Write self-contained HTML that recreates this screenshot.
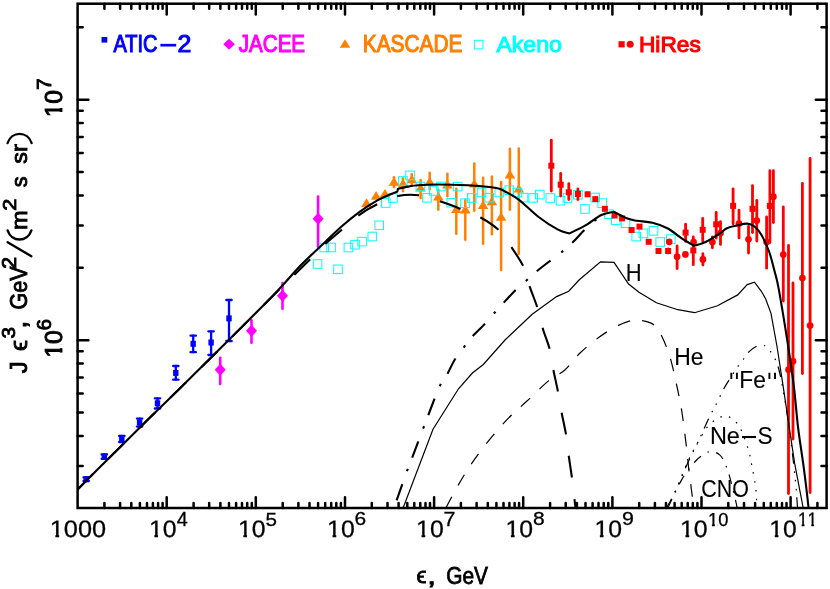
<!DOCTYPE html>
<html><head><meta charset="utf-8"><title>Cosmic ray spectrum</title>
<style>html,body{margin:0;padding:0;background:#fff}svg{display:block}</style></head>
<body>
<svg width="830" height="589" viewBox="0 0 830 589">
<rect x="0" y="0" width="830" height="589" fill="#fff"/>
<defs><clipPath id="cp"><rect x="77.6" y="3.7" width="749.0" height="504.3"/></clipPath></defs>
<g clip-path="url(#cp)">
<line x1="86.2" y1="477.5" x2="86.2" y2="481.0" stroke="#0000ff" stroke-width="2.3" stroke-linecap="round"/><line x1="83.5" y1="477.5" x2="88.9" y2="477.5" stroke="#0000ff" stroke-width="2.3" stroke-linecap="round"/><line x1="83.5" y1="481.0" x2="88.9" y2="481.0" stroke="#0000ff" stroke-width="2.3" stroke-linecap="round"/>
<rect x="83.5" y="476.2" width="5.4" height="6" fill="#0000ff"/>
<line x1="104.3" y1="454.5" x2="104.3" y2="458.8" stroke="#0000ff" stroke-width="2.3" stroke-linecap="round"/><line x1="101.6" y1="454.5" x2="107.0" y2="454.5" stroke="#0000ff" stroke-width="2.3" stroke-linecap="round"/><line x1="101.6" y1="458.8" x2="107.0" y2="458.8" stroke="#0000ff" stroke-width="2.3" stroke-linecap="round"/>
<rect x="101.6" y="453.6" width="5.4" height="6" fill="#0000ff"/>
<line x1="121.8" y1="436.0" x2="121.8" y2="442.0" stroke="#0000ff" stroke-width="2.3" stroke-linecap="round"/><line x1="119.1" y1="436.0" x2="124.5" y2="436.0" stroke="#0000ff" stroke-width="2.3" stroke-linecap="round"/><line x1="119.1" y1="442.0" x2="124.5" y2="442.0" stroke="#0000ff" stroke-width="2.3" stroke-linecap="round"/>
<rect x="119.1" y="436.0" width="5.4" height="6" fill="#0000ff"/>
<line x1="139.6" y1="418.6" x2="139.6" y2="426.6" stroke="#0000ff" stroke-width="2.3" stroke-linecap="round"/><line x1="136.9" y1="418.6" x2="142.3" y2="418.6" stroke="#0000ff" stroke-width="2.3" stroke-linecap="round"/><line x1="136.9" y1="426.6" x2="142.3" y2="426.6" stroke="#0000ff" stroke-width="2.3" stroke-linecap="round"/>
<rect x="136.9" y="419.6" width="5.4" height="6" fill="#0000ff"/>
<line x1="157.5" y1="398.3" x2="157.5" y2="408.5" stroke="#0000ff" stroke-width="2.3" stroke-linecap="round"/><line x1="154.8" y1="398.3" x2="160.2" y2="398.3" stroke="#0000ff" stroke-width="2.3" stroke-linecap="round"/><line x1="154.8" y1="408.5" x2="160.2" y2="408.5" stroke="#0000ff" stroke-width="2.3" stroke-linecap="round"/>
<rect x="154.8" y="400.3" width="5.4" height="6" fill="#0000ff"/>
<line x1="175.8" y1="366.0" x2="175.8" y2="379.7" stroke="#0000ff" stroke-width="2.3" stroke-linecap="round"/><line x1="173.1" y1="366.0" x2="178.5" y2="366.0" stroke="#0000ff" stroke-width="2.3" stroke-linecap="round"/><line x1="173.1" y1="379.7" x2="178.5" y2="379.7" stroke="#0000ff" stroke-width="2.3" stroke-linecap="round"/>
<rect x="173.1" y="369.9" width="5.4" height="6" fill="#0000ff"/>
<line x1="193.2" y1="335.7" x2="193.2" y2="352.2" stroke="#0000ff" stroke-width="2.3" stroke-linecap="round"/><line x1="190.5" y1="335.7" x2="195.9" y2="335.7" stroke="#0000ff" stroke-width="2.3" stroke-linecap="round"/><line x1="190.5" y1="352.2" x2="195.9" y2="352.2" stroke="#0000ff" stroke-width="2.3" stroke-linecap="round"/>
<rect x="190.5" y="340.8" width="5.4" height="6" fill="#0000ff"/>
<line x1="211.1" y1="331.3" x2="211.1" y2="355.0" stroke="#0000ff" stroke-width="2.3" stroke-linecap="round"/><line x1="208.4" y1="331.3" x2="213.8" y2="331.3" stroke="#0000ff" stroke-width="2.3" stroke-linecap="round"/><line x1="208.4" y1="355.0" x2="213.8" y2="355.0" stroke="#0000ff" stroke-width="2.3" stroke-linecap="round"/>
<rect x="208.4" y="339.5" width="5.4" height="6" fill="#0000ff"/>
<line x1="229.0" y1="300.0" x2="229.0" y2="341.0" stroke="#0000ff" stroke-width="2.3" stroke-linecap="round"/><line x1="226.3" y1="300.0" x2="231.7" y2="300.0" stroke="#0000ff" stroke-width="2.3" stroke-linecap="round"/><line x1="226.3" y1="341.0" x2="231.7" y2="341.0" stroke="#0000ff" stroke-width="2.3" stroke-linecap="round"/>
<rect x="226.3" y="315.4" width="5.4" height="6" fill="#0000ff"/>
<line x1="220.2" y1="357.7" x2="220.2" y2="384.0" stroke="#ff00ff" stroke-width="2.6" stroke-linecap="round"/>
<path d="M214.7 369.8 L220.2 363.8 L225.7 369.8 L220.2 375.8 Z" fill="#ff00ff"/>
<line x1="251.5" y1="320.3" x2="251.5" y2="342.7" stroke="#ff00ff" stroke-width="2.6" stroke-linecap="round"/>
<path d="M246.0 330.8 L251.5 324.8 L257.0 330.8 L251.5 336.8 Z" fill="#ff00ff"/>
<line x1="282.5" y1="283.1" x2="282.5" y2="308.7" stroke="#ff00ff" stroke-width="2.6" stroke-linecap="round"/>
<path d="M277.0 295.8 L282.5 289.8 L288.0 295.8 L282.5 301.8 Z" fill="#ff00ff"/>
<line x1="318.1" y1="196.6" x2="318.1" y2="246.7" stroke="#ff00ff" stroke-width="2.6" stroke-linecap="round"/>
<path d="M312.6 218.7 L318.1 212.7 L323.6 218.7 L318.1 224.7 Z" fill="#ff00ff"/>
<path d="M361.2 206.9 L371.8 206.9 L366.5 198.3 Z" fill="#ff8000"/>
<path d="M370.8 199.7 L381.4 199.7 L376.1 191.1 Z" fill="#ff8000"/>
<path d="M379.7 197.5 L390.3 197.5 L385.0 188.9 Z" fill="#ff8000"/>
<line x1="394.0" y1="177.2" x2="394.0" y2="187.3" stroke="#ff8000" stroke-width="2.5" stroke-linecap="round"/>
<path d="M388.7 185.7 L399.3 185.7 L394.0 177.1 Z" fill="#ff8000"/>
<line x1="403.0" y1="178.2" x2="403.0" y2="191.2" stroke="#ff8000" stroke-width="2.5" stroke-linecap="round"/>
<path d="M397.7 187.4 L408.3 187.4 L403.0 178.8 Z" fill="#ff8000"/>
<line x1="411.8" y1="174.2" x2="411.8" y2="185.3" stroke="#ff8000" stroke-width="2.5" stroke-linecap="round"/>
<path d="M406.5 183.2 L417.1 183.2 L411.8 174.6 Z" fill="#ff8000"/>
<line x1="420.6" y1="180.1" x2="420.6" y2="198.1" stroke="#ff8000" stroke-width="2.5" stroke-linecap="round"/>
<path d="M415.3 191.5 L425.9 191.5 L420.6 182.9 Z" fill="#ff8000"/>
<line x1="429.7" y1="172.7" x2="429.7" y2="189.2" stroke="#ff8000" stroke-width="2.5" stroke-linecap="round"/>
<path d="M424.4 185.5 L435.0 185.5 L429.7 176.9 Z" fill="#ff8000"/>
<line x1="438.3" y1="189.8" x2="438.3" y2="209.8" stroke="#ff8000" stroke-width="2.5" stroke-linecap="round"/>
<path d="M433.0 200.5 L443.6 200.5 L438.3 191.9 Z" fill="#ff8000"/>
<line x1="447.4" y1="173.8" x2="447.4" y2="196.2" stroke="#ff8000" stroke-width="2.5" stroke-linecap="round"/>
<path d="M442.1 188.4 L452.7 188.4 L447.4 179.8 Z" fill="#ff8000"/>
<line x1="456.3" y1="188.8" x2="456.3" y2="233.8" stroke="#ff8000" stroke-width="2.5" stroke-linecap="round"/>
<path d="M451.0 213.0 L461.6 213.0 L456.3 204.4 Z" fill="#ff8000"/>
<line x1="465.3" y1="199.7" x2="465.3" y2="239.8" stroke="#ff8000" stroke-width="2.5" stroke-linecap="round"/>
<path d="M460.0 213.6 L470.6 213.6 L465.3 205.0 Z" fill="#ff8000"/>
<line x1="474.3" y1="163.4" x2="474.3" y2="210.8" stroke="#ff8000" stroke-width="2.5" stroke-linecap="round"/>
<path d="M469.0 187.6 L479.6 187.6 L474.3 179.0 Z" fill="#ff8000"/>
<line x1="483.1" y1="177.8" x2="483.1" y2="243.8" stroke="#ff8000" stroke-width="2.5" stroke-linecap="round"/>
<path d="M477.8 209.1 L488.4 209.1 L483.1 200.5 Z" fill="#ff8000"/>
<line x1="491.9" y1="176.6" x2="491.9" y2="234.2" stroke="#ff8000" stroke-width="2.5" stroke-linecap="round"/>
<path d="M486.6 205.2 L497.2 205.2 L491.9 196.6 Z" fill="#ff8000"/>
<line x1="501.1" y1="182.1" x2="501.1" y2="270.1" stroke="#ff8000" stroke-width="2.5" stroke-linecap="round"/>
<path d="M495.8 220.8 L506.4 220.8 L501.1 212.2 Z" fill="#ff8000"/>
<line x1="509.9" y1="148.8" x2="509.9" y2="209.8" stroke="#ff8000" stroke-width="2.5" stroke-linecap="round"/>
<path d="M504.6 178.4 L515.2 178.4 L509.9 169.8 Z" fill="#ff8000"/>
<line x1="518.8" y1="148.4" x2="518.8" y2="253.8" stroke="#ff8000" stroke-width="2.5" stroke-linecap="round"/>
<path d="M513.5 192.5 L524.1 192.5 L518.8 183.9 Z" fill="#ff8000"/>
<rect x="313.3" y="259.7" width="8.6" height="8.6" fill="none" stroke="#00ffff" stroke-width="1"/>
<rect x="319.9" y="243.2" width="8.6" height="8.6" fill="none" stroke="#00ffff" stroke-width="1"/>
<rect x="326.8" y="243.2" width="8.6" height="8.6" fill="none" stroke="#00ffff" stroke-width="1"/>
<rect x="333.7" y="265.0" width="8.6" height="8.6" fill="none" stroke="#00ffff" stroke-width="1"/>
<rect x="344.1" y="243.2" width="8.6" height="8.6" fill="none" stroke="#00ffff" stroke-width="1"/>
<rect x="350.7" y="240.4" width="8.6" height="8.6" fill="none" stroke="#00ffff" stroke-width="1"/>
<rect x="357.8" y="237.3" width="8.6" height="8.6" fill="none" stroke="#00ffff" stroke-width="1"/>
<rect x="368.0" y="232.2" width="8.6" height="8.6" fill="none" stroke="#00ffff" stroke-width="1"/>
<rect x="374.9" y="221.0" width="8.6" height="8.6" fill="none" stroke="#00ffff" stroke-width="1"/>
<rect x="381.5" y="198.7" width="8.6" height="8.6" fill="none" stroke="#00ffff" stroke-width="1"/>
<rect x="388.6" y="193.7" width="8.6" height="8.6" fill="none" stroke="#00ffff" stroke-width="1"/>
<rect x="398.6" y="176.7" width="8.6" height="8.6" fill="none" stroke="#00ffff" stroke-width="1"/>
<rect x="405.7" y="171.1" width="8.6" height="8.6" fill="none" stroke="#00ffff" stroke-width="1"/>
<rect x="416.1" y="182.2" width="8.6" height="8.6" fill="none" stroke="#00ffff" stroke-width="1"/>
<rect x="422.7" y="193.5" width="8.6" height="8.6" fill="none" stroke="#00ffff" stroke-width="1"/>
<rect x="429.5" y="186.7" width="8.6" height="8.6" fill="none" stroke="#00ffff" stroke-width="1"/>
<rect x="436.7" y="182.2" width="8.6" height="8.6" fill="none" stroke="#00ffff" stroke-width="1"/>
<rect x="447.0" y="198.4" width="8.6" height="8.6" fill="none" stroke="#00ffff" stroke-width="1"/>
<rect x="453.4" y="182.3" width="8.6" height="8.6" fill="none" stroke="#00ffff" stroke-width="1"/>
<rect x="460.7" y="198.9" width="8.6" height="8.6" fill="none" stroke="#00ffff" stroke-width="1"/>
<rect x="467.5" y="193.7" width="8.6" height="8.6" fill="none" stroke="#00ffff" stroke-width="1"/>
<rect x="477.3" y="188.2" width="8.6" height="8.6" fill="none" stroke="#00ffff" stroke-width="1"/>
<rect x="484.9" y="193.4" width="8.6" height="8.6" fill="none" stroke="#00ffff" stroke-width="1"/>
<rect x="495.0" y="188.2" width="8.6" height="8.6" fill="none" stroke="#00ffff" stroke-width="1"/>
<rect x="505.0" y="185.9" width="8.6" height="8.6" fill="none" stroke="#00ffff" stroke-width="1"/>
<rect x="513.1" y="188.2" width="8.6" height="8.6" fill="none" stroke="#00ffff" stroke-width="1"/>
<rect x="519.2" y="193.3" width="8.6" height="8.6" fill="none" stroke="#00ffff" stroke-width="1"/>
<rect x="528.9" y="193.6" width="8.6" height="8.6" fill="none" stroke="#00ffff" stroke-width="1"/>
<rect x="535.5" y="190.3" width="8.6" height="8.6" fill="none" stroke="#00ffff" stroke-width="1"/>
<rect x="546.0" y="193.7" width="8.6" height="8.6" fill="none" stroke="#00ffff" stroke-width="1"/>
<rect x="556.2" y="196.4" width="8.6" height="8.6" fill="none" stroke="#00ffff" stroke-width="1"/>
<rect x="563.2" y="193.7" width="8.6" height="8.6" fill="none" stroke="#00ffff" stroke-width="1"/>
<rect x="573.6" y="190.5" width="8.6" height="8.6" fill="none" stroke="#00ffff" stroke-width="1"/>
<rect x="580.7" y="204.7" width="8.6" height="8.6" fill="none" stroke="#00ffff" stroke-width="1"/>
<rect x="590.9" y="193.2" width="8.6" height="8.6" fill="none" stroke="#00ffff" stroke-width="1"/>
<rect x="597.9" y="198.8" width="8.6" height="8.6" fill="none" stroke="#00ffff" stroke-width="1"/>
<rect x="604.7" y="209.9" width="8.6" height="8.6" fill="none" stroke="#00ffff" stroke-width="1"/>
<rect x="611.5" y="216.0" width="8.6" height="8.6" fill="none" stroke="#00ffff" stroke-width="1"/>
<rect x="621.2" y="218.9" width="8.6" height="8.6" fill="none" stroke="#00ffff" stroke-width="1"/>
<rect x="631.9" y="232.3" width="8.6" height="8.6" fill="none" stroke="#00ffff" stroke-width="1"/>
<rect x="639.1" y="229.1" width="8.6" height="8.6" fill="none" stroke="#00ffff" stroke-width="1"/>
<rect x="649.2" y="226.5" width="8.6" height="8.6" fill="none" stroke="#00ffff" stroke-width="1"/>
<rect x="655.9" y="237.7" width="8.6" height="8.6" fill="none" stroke="#00ffff" stroke-width="1"/>
<rect x="666.5" y="234.8" width="8.6" height="8.6" fill="none" stroke="#00ffff" stroke-width="1"/>
<line x1="551.3" y1="140.2" x2="551.3" y2="191.1" stroke="#ff0000" stroke-width="2.8" stroke-linecap="round"/>
<rect x="548.3" y="162.7" width="6" height="6" fill="#ff0000"/>
<line x1="560.7" y1="173.4" x2="560.7" y2="196.0" stroke="#ff0000" stroke-width="2.8" stroke-linecap="round"/>
<rect x="557.7" y="181.7" width="6" height="6" fill="#ff0000"/>
<line x1="568.8" y1="183.7" x2="568.8" y2="199.6" stroke="#ff0000" stroke-width="2.8" stroke-linecap="round"/>
<rect x="565.8" y="189.3" width="6" height="6" fill="#ff0000"/>
<line x1="577.9" y1="189.0" x2="577.9" y2="199.6" stroke="#ff0000" stroke-width="2.8" stroke-linecap="round"/>
<rect x="574.9" y="191.0" width="6" height="6" fill="#ff0000"/>
<line x1="587.6" y1="192.9" x2="587.6" y2="195.6" stroke="#ff0000" stroke-width="2.8" stroke-linecap="round"/>
<rect x="584.6" y="191.3" width="6" height="6" fill="#ff0000"/>
<rect x="592.3" y="196.1" width="6" height="6" fill="#ff0000"/>
<rect x="601.9" y="205.8" width="6" height="6" fill="#ff0000"/>
<rect x="611.6" y="212.5" width="6" height="6" fill="#ff0000"/>
<rect x="619.1" y="215.4" width="6" height="6" fill="#ff0000"/>
<rect x="628.6" y="227.0" width="6" height="6" fill="#ff0000"/>
<rect x="636.5" y="223.6" width="6" height="6" fill="#ff0000"/>
<rect x="645.7" y="238.8" width="6" height="6" fill="#ff0000"/>
<rect x="655.5" y="248.0" width="6" height="6" fill="#ff0000"/>
<line x1="668.1" y1="248.9" x2="668.1" y2="253.1" stroke="#ff0000" stroke-width="2.8" stroke-linecap="round"/>
<rect x="665.1" y="248.0" width="6" height="6" fill="#ff0000"/>
<line x1="685.6" y1="224.2" x2="685.6" y2="241.4" stroke="#ff0000" stroke-width="2.8" stroke-linecap="round"/>
<rect x="682.6" y="229.6" width="6" height="6" fill="#ff0000"/>
<line x1="693.3" y1="236.8" x2="693.3" y2="264.7" stroke="#ff0000" stroke-width="2.8" stroke-linecap="round"/>
<rect x="690.3" y="247.4" width="6" height="6" fill="#ff0000"/>
<line x1="702.7" y1="218.4" x2="702.7" y2="241.1" stroke="#ff0000" stroke-width="2.8" stroke-linecap="round"/>
<rect x="699.7" y="226.8" width="6" height="6" fill="#ff0000"/>
<line x1="716.2" y1="212.4" x2="716.2" y2="238.0" stroke="#ff0000" stroke-width="2.8" stroke-linecap="round"/>
<rect x="713.2" y="221.3" width="6" height="6" fill="#ff0000"/>
<line x1="733.1" y1="188.8" x2="733.1" y2="223.8" stroke="#ff0000" stroke-width="2.8" stroke-linecap="round"/>
<rect x="730.1" y="202.9" width="6" height="6" fill="#ff0000"/>
<line x1="752.5" y1="185.6" x2="752.5" y2="232.6" stroke="#ff0000" stroke-width="2.8" stroke-linecap="round"/>
<rect x="749.5" y="205.8" width="6" height="6" fill="#ff0000"/>
<line x1="769.9" y1="170.7" x2="769.9" y2="242.6" stroke="#ff0000" stroke-width="2.8" stroke-linecap="round"/>
<rect x="766.9" y="202.9" width="6" height="6" fill="#ff0000"/>
<circle cx="669.2" cy="241.8" r="3.35" fill="#ff0000"/>
<line x1="677.1" y1="245.9" x2="677.1" y2="268.6" stroke="#ff0000" stroke-width="2.8" stroke-linecap="round"/>
<circle cx="677.1" cy="256.7" r="3.35" fill="#ff0000"/>
<circle cx="685.4" cy="254.4" r="3.35" fill="#ff0000"/>
<circle cx="693.6" cy="242.0" r="3.35" fill="#ff0000"/>
<line x1="702.9" y1="253.7" x2="702.9" y2="265.1" stroke="#ff0000" stroke-width="2.8" stroke-linecap="round"/>
<circle cx="702.9" cy="259.4" r="3.35" fill="#ff0000"/>
<line x1="712.4" y1="236.8" x2="712.4" y2="247.8" stroke="#ff0000" stroke-width="2.8" stroke-linecap="round"/>
<circle cx="712.4" cy="242.0" r="3.35" fill="#ff0000"/>
<line x1="720.5" y1="221.7" x2="720.5" y2="244.4" stroke="#ff0000" stroke-width="2.8" stroke-linecap="round"/>
<circle cx="720.5" cy="233.0" r="3.35" fill="#ff0000"/>
<line x1="739.0" y1="210.1" x2="739.0" y2="237.9" stroke="#ff0000" stroke-width="2.8" stroke-linecap="round"/>
<circle cx="739.0" cy="223.5" r="3.35" fill="#ff0000"/>
<line x1="748.5" y1="226.4" x2="748.5" y2="253.0" stroke="#ff0000" stroke-width="2.8" stroke-linecap="round"/>
<circle cx="748.5" cy="239.3" r="3.35" fill="#ff0000"/>
<line x1="756.8" y1="200.4" x2="756.8" y2="241.0" stroke="#ff0000" stroke-width="2.8" stroke-linecap="round"/>
<circle cx="756.8" cy="220.6" r="3.35" fill="#ff0000"/>
<line x1="766.6" y1="216.9" x2="766.6" y2="268.2" stroke="#ff0000" stroke-width="2.8" stroke-linecap="round"/>
<circle cx="766.6" cy="242.0" r="3.35" fill="#ff0000"/>
<line x1="773.4" y1="170.7" x2="773.4" y2="222.5" stroke="#ff0000" stroke-width="2.8" stroke-linecap="round"/>
<circle cx="773.4" cy="196.7" r="3.35" fill="#ff0000"/>
<line x1="783.3" y1="206.9" x2="783.3" y2="301.1" stroke="#ff0000" stroke-width="2.8" stroke-linecap="round"/>
<circle cx="783.3" cy="254.5" r="3.35" fill="#ff0000"/>
<line x1="788.5" y1="245.4" x2="788.5" y2="493.6" stroke="#ff0000" stroke-width="2.8" stroke-linecap="round"/>
<circle cx="788.5" cy="369.7" r="3.35" fill="#ff0000"/>
<line x1="793.0" y1="282.9" x2="793.0" y2="439.1" stroke="#ff0000" stroke-width="2.8" stroke-linecap="round"/>
<circle cx="793.0" cy="361.2" r="3.35" fill="#ff0000"/>
<line x1="802.4" y1="183.4" x2="802.4" y2="373.6" stroke="#ff0000" stroke-width="2.8" stroke-linecap="round"/>
<circle cx="802.4" cy="278.0" r="3.35" fill="#ff0000"/>
<line x1="810.1" y1="158.4" x2="810.1" y2="492.6" stroke="#ff0000" stroke-width="2.8" stroke-linecap="round"/>
<circle cx="810.1" cy="325.5" r="3.35" fill="#ff0000"/>
</g>
<g clip-path="url(#cp)" fill="none">
<path d="M403.1 508.0 L433.0 429.2 L458.5 388.8 L472.4 373.0 L483.3 364.5 L505.0 340.0 L532.2 314.2 L556.6 296.6 L568.7 291.2 L579.3 279.8 L600.5 261.8 L614.0 262.3 L628.6 284.0 L639.0 292.2 L656.4 302.7 L677.8 309.7 L694.6 312.7 L717.5 305.7 L737.7 294.9 L747.2 284.6 L754.5 282.1 L761.0 290.8 L765.5 298.5 L771.0 313.3 L777.1 347.0 L783.2 386.7 L788.6 422.8 L794.6 463.2 L803.2 508.0" stroke="#000" stroke-width="1.2"/>
<path d="M445.8 508.0 C448.0 504.0 454.4 491.7 458.8 484.1 C463.2 476.5 467.4 469.6 472.4 462.4 C477.4 455.2 482.8 447.9 488.7 440.7 C494.6 433.4 501.4 425.5 507.7 418.9 C514.0 412.3 519.9 407.6 526.7 401.3 C533.5 395.0 542.1 386.1 548.5 380.9 C554.9 375.7 559.5 374.6 564.8 370.0 C570.0 365.4 574.4 358.4 580.0 353.0 C585.6 347.6 592.2 342.3 598.3 337.8 C604.4 333.3 610.8 329.2 616.7 326.2 C622.6 323.2 629.0 320.9 633.5 320.0 C638.0 319.1 640.4 320.1 644.0 321.0 C647.6 321.9 651.8 322.8 654.9 325.6 C658.0 328.4 660.0 332.5 662.5 337.8 C665.0 343.1 667.9 350.1 670.2 357.7 C672.5 365.3 674.4 374.9 676.3 383.6 C678.2 392.3 679.9 399.5 681.6 410.0 C683.3 420.5 685.2 436.7 686.4 446.6 C687.6 456.5 687.8 460.9 688.8 469.2 C689.8 477.5 691.5 490.0 692.3 496.5 C693.1 503.0 693.5 506.1 693.8 508.0" stroke="#000" stroke-width="1.2" stroke-dasharray="12.7 12.7"/>
<path d="M666.5 508.0 C668.0 505.1 672.2 498.1 675.7 490.6 C679.2 483.1 684.1 470.9 687.6 463.2 C691.1 455.5 693.4 451.7 697.0 444.2 C700.6 436.7 705.8 424.7 709.0 418.0 C712.2 411.3 713.8 408.8 716.3 403.9 C718.8 399.0 721.5 393.0 723.9 388.6 C726.3 384.2 728.3 381.3 730.7 377.5 C733.1 373.7 736.2 368.9 738.4 365.7 C740.6 362.5 742.3 360.8 744.0 358.5 C745.7 356.2 746.4 354.2 748.6 352.1 C750.8 350.0 754.4 347.2 757.1 346.1 C759.8 345.1 762.5 344.9 764.7 345.8 C767.0 346.7 768.8 349.4 770.6 351.7 C772.4 354.0 773.9 356.3 775.4 359.7 C776.9 363.1 778.1 366.1 779.5 372.0 C780.9 377.9 782.6 387.0 784.0 395.0 C785.4 403.0 786.7 410.8 788.0 420.0 C789.3 429.2 790.7 439.2 792.0 450.0 C793.3 460.8 794.9 474.9 795.8 484.6 C796.7 494.3 797.2 504.1 797.5 508.0" stroke="#000" stroke-width="1.2" stroke-dasharray="10.5 7.5 1.5 7 1.5 7.5 1.5 7"/>
<path d="M667.5 508.0 C668.8 505.3 671.6 499.7 675.0 492.0 C678.4 484.3 683.5 470.8 687.6 462.0 C691.7 453.2 695.9 445.6 699.5 439.5 C703.1 433.4 705.4 429.0 709.0 425.2 C712.6 421.4 717.3 418.2 720.9 416.9 C724.5 415.6 727.2 415.8 730.4 417.6 C733.6 419.4 736.9 422.4 739.9 427.6 C742.9 432.8 746.2 442.7 748.2 449.0 C750.2 455.3 750.6 459.7 751.8 465.6 C753.0 471.5 754.5 479.1 755.3 484.6 C756.1 490.2 756.2 495.0 756.5 498.9 C756.8 502.8 756.9 506.5 757.0 508.0" stroke="#000" stroke-width="1.2" stroke-dasharray="1.5 7.4"/>
<path d="M667.8 508.0 C670.1 503.3 677.1 487.6 681.6 479.9 C686.1 472.2 691.1 466.2 694.7 462.0 C698.3 457.8 700.2 456.7 703.0 454.9 C705.8 453.1 708.5 451.3 711.3 451.3 C714.1 451.3 717.5 453.1 719.7 454.9 C721.9 456.7 722.8 458.6 724.4 462.0 C726.0 465.4 727.8 470.4 729.2 475.1 C730.6 479.8 731.8 485.2 733.0 490.0 C734.2 494.8 735.6 500.7 736.3 503.7 C737.0 506.7 736.9 507.3 737.0 508.0" stroke="#000" stroke-width="1.2" stroke-dasharray="9.7 7.5 1.5 7.5"/>
<path d="M396.6 500.4 C398.4 495.4 404.3 478.4 407.2 470.5 C410.1 462.6 411.3 460.0 414.0 452.9 C416.7 445.8 421.0 434.2 423.5 427.6 C426.0 421.0 426.2 420.4 428.9 413.5 C431.6 406.6 436.6 392.8 439.8 386.0 C443.0 379.2 445.5 377.1 448.0 372.7 C450.5 368.3 452.0 364.0 454.7 359.7 C457.4 355.4 461.2 350.7 464.2 346.8 C467.1 342.9 469.0 340.2 472.4 336.4 C475.8 332.6 481.0 328.0 484.6 324.1 C488.2 320.2 490.9 316.9 494.1 313.3 C497.3 309.8 500.0 306.7 503.6 302.8 C507.2 298.9 512.0 293.6 515.9 289.8 C519.8 286.1 523.3 283.3 526.7 280.3 C530.1 277.3 531.8 275.3 536.3 271.6 C540.8 267.9 549.1 261.7 553.9 258.0 C558.6 254.3 561.6 252.3 564.8 249.6 C568.0 246.9 569.6 245.3 573.0 242.0 C576.4 238.7 581.3 233.1 585.0 229.5 C588.7 225.9 592.3 222.8 595.0 220.5 C597.7 218.2 600.3 216.3 601.4 215.5" stroke="#000" stroke-width="2.1" stroke-dasharray="17.3 13.5 2.5 12.3"/>
<path d="M77.6 489.6 C81.3 485.8 87.9 479.0 100.0 467.0 C112.1 455.0 136.8 430.6 150.0 417.6 C163.2 404.6 165.7 402.3 179.0 389.2 C192.3 376.1 214.0 354.7 230.0 338.8 C246.0 322.9 264.2 304.5 275.0 293.8 C285.8 283.1 288.9 280.1 294.7 274.4 C300.5 268.7 304.9 264.4 310.0 259.4 C315.1 254.3 319.9 249.0 325.2 244.1 C330.5 239.2 336.3 234.6 341.8 229.8 C347.3 225.1 352.4 219.9 358.3 215.6 C364.2 211.3 370.8 207.4 377.4 204.2 C384.0 200.9 391.0 197.6 397.8 196.1 C404.6 194.6 411.1 194.3 418.1 195.2 C425.1 196.1 432.5 199.0 439.6 201.3 C446.8 203.6 454.2 206.4 461.0 209.1 C467.8 211.8 474.3 214.0 480.6 217.5 C486.9 221.0 493.6 225.2 498.8 230.2 C504.0 235.2 507.7 241.6 511.8 247.7 C515.9 253.8 520.6 260.6 523.5 266.7 C526.4 272.8 526.5 277.4 528.9 284.3 C531.2 291.2 535.2 300.8 537.6 308.3 C540.0 315.8 541.0 322.3 543.0 329.2 C545.0 336.1 548.1 342.8 549.8 349.6 C551.5 356.4 552.0 363.0 553.4 370.0 C554.8 377.0 556.6 384.7 558.0 391.7 C559.4 398.7 560.1 404.9 561.5 412.1 C562.9 419.4 564.9 427.7 566.1 435.2 C567.3 442.7 567.9 449.8 568.9 457.0 C569.9 464.2 571.1 471.5 572.1 478.7 C573.1 485.9 574.0 495.5 574.6 500.4 C575.2 505.3 575.4 506.7 575.5 508.0" stroke="#000" stroke-width="2.1" stroke-dasharray="22 21.6"/>
<path d="M77.6 489.6 C81.3 485.8 87.9 479.0 100.0 467.0 C112.1 455.0 136.8 430.6 150.0 417.6 C163.2 404.6 165.7 402.3 179.0 389.2 C192.3 376.1 214.0 354.8 230.0 338.8 C246.0 322.9 263.2 305.7 275.0 293.5 C286.8 281.3 292.9 273.5 300.5 265.6 C308.1 257.7 314.0 252.6 320.9 246.0 C327.8 239.4 335.4 232.0 341.8 226.3 C348.2 220.6 353.7 216.1 359.6 211.8 C365.5 207.5 372.3 203.3 377.4 200.4 C382.5 197.5 386.7 196.0 390.0 194.5 C393.3 193.0 396.2 192.1 397.4 191.6 L397.8 188.9 C399.5 188.5 404.6 187.2 408.0 186.6 C411.4 186.0 413.0 185.5 418.1 185.2 C423.2 184.8 430.2 184.5 438.5 184.5 C446.8 184.5 459.4 184.9 467.9 185.3 C476.4 185.7 484.1 186.4 489.4 187.0 C494.7 187.6 496.9 188.1 499.5 188.8 C502.1 189.6 501.8 189.7 505.0 191.5 C508.2 193.3 513.4 195.6 519.0 199.8 C524.6 204.1 532.1 212.0 538.6 217.0 C545.1 222.0 552.9 226.9 558.0 229.6 C563.1 232.3 567.5 232.8 569.4 233.4 C572.0 232.1 579.7 228.8 585.0 225.7 C590.3 222.6 596.6 217.3 601.4 215.0 C606.2 212.7 611.6 212.3 613.6 211.8 C615.9 212.9 623.6 217.1 627.5 218.6 C631.4 220.1 632.9 220.1 637.1 220.8 C641.3 221.5 647.4 221.5 652.5 222.8 C657.6 224.1 663.1 225.9 667.9 228.5 C672.7 231.1 677.0 235.3 681.4 238.2 C685.8 241.1 691.9 244.6 694.0 245.9 C695.8 245.3 700.7 244.4 705.0 242.3 C709.3 240.2 716.4 235.8 720.0 233.4 C723.6 231.1 724.1 229.5 726.9 228.2 C729.7 226.9 733.6 226.3 737.0 225.5 C740.4 224.7 744.3 223.4 747.2 223.6 C750.1 223.8 752.1 224.6 754.5 226.5 C756.9 228.4 759.1 230.9 761.5 235.0 C763.9 239.1 766.7 245.0 768.9 251.0 C771.1 257.0 772.9 264.7 774.5 271.0 C776.1 277.3 776.5 276.8 778.7 288.9 C780.9 301.0 785.3 327.6 787.8 343.9 C790.3 360.2 792.2 372.8 793.9 386.7 C795.6 400.6 796.4 413.7 798.1 427.6 C799.8 441.6 802.4 457.0 804.1 470.4 C805.9 483.8 807.9 501.7 808.6 508.0" stroke="#000" stroke-width="2.1" stroke-linejoin="round"/>
</g>
<g stroke="#000" stroke-width="2.5" stroke-linecap="round" fill="none">
<path d="M104.4 508.0 v-5.1 M104.4 3.7 v5.1 M120.1 508.0 v-5.1 M120.1 3.7 v5.1 M131.3 508.0 v-5.1 M131.3 3.7 v5.1 M139.9 508.0 v-5.1 M139.9 3.7 v5.1 M147.0 508.0 v-5.1 M147.0 3.7 v5.1 M152.9 508.0 v-5.1 M152.9 3.7 v5.1 M158.1 508.0 v-5.1 M158.1 3.7 v5.1 M162.6 508.0 v-5.1 M162.6 3.7 v5.1 M166.7 508.0 v-10.8 M166.7 3.7 v10.8 M193.6 508.0 v-5.1 M193.6 3.7 v5.1 M209.2 508.0 v-5.1 M209.2 3.7 v5.1 M220.4 508.0 v-5.1 M220.4 3.7 v5.1 M229.0 508.0 v-5.1 M229.0 3.7 v5.1 M236.1 508.0 v-5.1 M236.1 3.7 v5.1 M242.0 508.0 v-5.1 M242.0 3.7 v5.1 M247.2 508.0 v-5.1 M247.2 3.7 v5.1 M251.8 508.0 v-5.1 M251.8 3.7 v5.1 M255.8 508.0 v-10.8 M255.8 3.7 v10.8 M282.7 508.0 v-5.1 M282.7 3.7 v5.1 M298.4 508.0 v-5.1 M298.4 3.7 v5.1 M309.5 508.0 v-5.1 M309.5 3.7 v5.1 M318.1 508.0 v-5.1 M318.1 3.7 v5.1 M325.2 508.0 v-5.1 M325.2 3.7 v5.1 M331.2 508.0 v-5.1 M331.2 3.7 v5.1 M336.3 508.0 v-5.1 M336.3 3.7 v5.1 M340.9 508.0 v-5.1 M340.9 3.7 v5.1 M345.0 508.0 v-10.8 M345.0 3.7 v10.8 M371.8 508.0 v-5.1 M371.8 3.7 v5.1 M387.5 508.0 v-5.1 M387.5 3.7 v5.1 M398.6 508.0 v-5.1 M398.6 3.7 v5.1 M407.3 508.0 v-5.1 M407.3 3.7 v5.1 M414.3 508.0 v-5.1 M414.3 3.7 v5.1 M420.3 508.0 v-5.1 M420.3 3.7 v5.1 M425.5 508.0 v-5.1 M425.5 3.7 v5.1 M430.0 508.0 v-5.1 M430.0 3.7 v5.1 M434.1 508.0 v-10.8 M434.1 3.7 v10.8 M460.9 508.0 v-5.1 M460.9 3.7 v5.1 M476.6 508.0 v-5.1 M476.6 3.7 v5.1 M487.8 508.0 v-5.1 M487.8 3.7 v5.1 M496.4 508.0 v-5.1 M496.4 3.7 v5.1 M503.5 508.0 v-5.1 M503.5 3.7 v5.1 M509.4 508.0 v-5.1 M509.4 3.7 v5.1 M514.6 508.0 v-5.1 M514.6 3.7 v5.1 M519.1 508.0 v-5.1 M519.1 3.7 v5.1 M523.2 508.0 v-10.8 M523.2 3.7 v10.8 M550.1 508.0 v-5.1 M550.1 3.7 v5.1 M565.7 508.0 v-5.1 M565.7 3.7 v5.1 M576.9 508.0 v-5.1 M576.9 3.7 v5.1 M585.5 508.0 v-5.1 M585.5 3.7 v5.1 M592.6 508.0 v-5.1 M592.6 3.7 v5.1 M598.5 508.0 v-5.1 M598.5 3.7 v5.1 M603.7 508.0 v-5.1 M603.7 3.7 v5.1 M608.3 508.0 v-5.1 M608.3 3.7 v5.1 M612.4 508.0 v-10.8 M612.4 3.7 v10.8 M639.2 508.0 v-5.1 M639.2 3.7 v5.1 M654.9 508.0 v-5.1 M654.9 3.7 v5.1 M666.0 508.0 v-5.1 M666.0 3.7 v5.1 M674.6 508.0 v-5.1 M674.6 3.7 v5.1 M681.7 508.0 v-5.1 M681.7 3.7 v5.1 M687.7 508.0 v-5.1 M687.7 3.7 v5.1 M692.8 508.0 v-5.1 M692.8 3.7 v5.1 M697.4 508.0 v-5.1 M697.4 3.7 v5.1 M701.5 508.0 v-10.8 M701.5 3.7 v10.8 M728.3 508.0 v-5.1 M728.3 3.7 v5.1 M744.0 508.0 v-5.1 M744.0 3.7 v5.1 M755.1 508.0 v-5.1 M755.1 3.7 v5.1 M763.8 508.0 v-5.1 M763.8 3.7 v5.1 M770.8 508.0 v-5.1 M770.8 3.7 v5.1 M776.8 508.0 v-5.1 M776.8 3.7 v5.1 M782.0 508.0 v-5.1 M782.0 3.7 v5.1 M786.5 508.0 v-5.1 M786.5 3.7 v5.1 M790.6 508.0 v-10.8 M790.6 3.7 v10.8 M817.4 508.0 v-5.1 M817.4 3.7 v5.1 M77.6 466.0 h5.1 M826.6 466.0 h-5.1 M77.6 435.9 h5.1 M826.6 435.9 h-5.1 M77.6 412.6 h5.1 M826.6 412.6 h-5.1 M77.6 393.6 h5.1 M826.6 393.6 h-5.1 M77.6 377.5 h5.1 M826.6 377.5 h-5.1 M77.6 363.5 h5.1 M826.6 363.5 h-5.1 M77.6 351.2 h5.1 M826.6 351.2 h-5.1 M77.6 340.2 h10.8 M826.6 340.2 h-10.8 M77.6 267.8 h5.1 M826.6 267.8 h-5.1 M77.6 225.5 h5.1 M826.6 225.5 h-5.1 M77.6 195.4 h5.1 M826.6 195.4 h-5.1 M77.6 172.1 h5.1 M826.6 172.1 h-5.1 M77.6 153.1 h5.1 M826.6 153.1 h-5.1 M77.6 137.0 h5.1 M826.6 137.0 h-5.1 M77.6 123.0 h5.1 M826.6 123.0 h-5.1 M77.6 110.7 h5.1 M826.6 110.7 h-5.1 M77.6 99.7 h10.8 M826.6 99.7 h-10.8 M77.6 27.3 h5.1 M826.6 27.3 h-5.1"/>
<rect x="77.6" y="3.7" width="749.0" height="504.3" stroke-linejoin="miter"/>
</g>
<g style="filter:opacity(1)">
<clipPath id="k0"><rect x="-5" y="-28.56" width="62.95" height="25.63"/><rect x="5.28" y="-3.03" width="3.50" height="5.93"/><rect x="12.74" y="-3.03" width="14.24" height="5.93"/><rect x="25.97" y="-3.03" width="14.24" height="5.93"/><rect x="39.21" y="-3.03" width="14.24" height="5.93"/></clipPath>
<text transform="translate(49.8 536.9) scale(1.063 1)" font-size="23.8" fill="#000" font-family="Liberation Sans, sans-serif" stroke="#000" stroke-width="0.3" x="0.00 13.24 26.47 39.71" text-rendering="geometricPrecision" clip-path="url(#k0)">1000</text>
<clipPath id="k1"><rect x="-5" y="-28.56" width="36.47" height="25.63"/><rect x="5.28" y="-3.03" width="3.50" height="5.93"/><rect x="12.74" y="-3.03" width="14.24" height="5.93"/></clipPath>
<text transform="translate(148.9 536.9) scale(1.041 1)" font-size="23.8" fill="#000" font-family="Liberation Sans, sans-serif" stroke="#000" stroke-width="0.3" x="0.00 13.24" text-rendering="geometricPrecision" clip-path="url(#k1)">10</text>
<text transform="translate(176.8 525.7) scale(1.015 1)" font-size="19.5" fill="#000" font-family="Liberation Sans, sans-serif" stroke="#000" stroke-width="0.3">4</text>
<text transform="translate(237.9 536.9) scale(1.041 1)" font-size="23.8" fill="#000" font-family="Liberation Sans, sans-serif" stroke="#000" stroke-width="0.3" x="0.00 13.24" text-rendering="geometricPrecision" clip-path="url(#k1)">10</text>
<text transform="translate(265.5 525.5) scale(1.073 1)" font-size="19.2" fill="#000" font-family="Liberation Sans, sans-serif" stroke="#000" stroke-width="0.3">5</text>
<text transform="translate(327.1 536.9) scale(1.041 1)" font-size="23.8" fill="#000" font-family="Liberation Sans, sans-serif" stroke="#000" stroke-width="0.3" x="0.00 13.24" text-rendering="geometricPrecision" clip-path="url(#k1)">10</text>
<text transform="translate(354.6 525.4) scale(1.108 1)" font-size="18.9" fill="#000" font-family="Liberation Sans, sans-serif" stroke="#000" stroke-width="0.3">6</text>
<text transform="translate(416.1 536.9) scale(1.041 1)" font-size="23.8" fill="#000" font-family="Liberation Sans, sans-serif" stroke="#000" stroke-width="0.3" x="0.00 13.24" text-rendering="geometricPrecision" clip-path="url(#k1)">10</text>
<text transform="translate(443.5 525.7) scale(1.102 1)" font-size="19.5" fill="#000" font-family="Liberation Sans, sans-serif" stroke="#000" stroke-width="0.3">7</text>
<text transform="translate(505.4 536.9) scale(1.041 1)" font-size="23.8" fill="#000" font-family="Liberation Sans, sans-serif" stroke="#000" stroke-width="0.3" x="0.00 13.24" text-rendering="geometricPrecision" clip-path="url(#k1)">10</text>
<text transform="translate(532.9 525.4) scale(1.113 1)" font-size="18.9" fill="#000" font-family="Liberation Sans, sans-serif" stroke="#000" stroke-width="0.3">8</text>
<text transform="translate(594.4 536.9) scale(1.041 1)" font-size="23.8" fill="#000" font-family="Liberation Sans, sans-serif" stroke="#000" stroke-width="0.3" x="0.00 13.24" text-rendering="geometricPrecision" clip-path="url(#k1)">10</text>
<text transform="translate(621.9 525.4) scale(1.136 1)" font-size="18.9" fill="#000" font-family="Liberation Sans, sans-serif" stroke="#000" stroke-width="0.3">9</text>
<text transform="translate(680.0 536.9) scale(1.045 1)" font-size="23.8" fill="#000" font-family="Liberation Sans, sans-serif" stroke="#000" stroke-width="0.3" x="0.00 13.24" text-rendering="geometricPrecision" clip-path="url(#k1)">10</text>
<clipPath id="k2"><rect x="-5" y="-22.56" width="30.91" height="20.01"/><rect x="4.03" y="-2.65" width="3.06" height="5.55"/><rect x="9.96" y="-2.65" width="11.46" height="5.55"/></clipPath>
<text transform="translate(708.0 525.7) scale(0.971 1)" font-size="18.8" fill="#000" font-family="Liberation Sans, sans-serif" stroke="#000" stroke-width="0.3" x="0.00 10.46" text-rendering="geometricPrecision" clip-path="url(#k2)">10</text>
<text transform="translate(769.3 536.9) scale(1.035 1)" font-size="23.8" fill="#000" font-family="Liberation Sans, sans-serif" stroke="#000" stroke-width="0.3" x="0.00 13.24" text-rendering="geometricPrecision" clip-path="url(#k1)">10</text>
<clipPath id="k3"><rect x="-5" y="-23.16" width="31.47" height="20.57"/><rect x="4.15" y="-2.69" width="3.11" height="5.59"/><rect x="14.89" y="-2.69" width="3.11" height="5.59"/></clipPath>
<text transform="translate(798.0 525.9) scale(0.892 1)" font-size="19.3" fill="#000" font-family="Liberation Sans, sans-serif" stroke="#000" stroke-width="0.3" x="0.00 10.73" text-rendering="geometricPrecision" clip-path="url(#k3)">11</text>
<text transform="translate(416.5 583.4) scale(1.040 1)" font-size="21.7" fill="#000" font-family="Liberation Sans, sans-serif" stroke="#000" stroke-width="0.8">ϵ</text>
<text transform="translate(427.3 583.5) scale(1.402 1)" font-size="22.5" fill="#000" font-family="Liberation Sans, sans-serif" stroke="#000" stroke-width="0.8">,</text>
<text transform="translate(446.2 583.7) scale(0.887 1)" font-size="23.5" fill="#000" font-family="Liberation Sans, sans-serif" stroke="#000" stroke-width="0.8">GeV</text>
<clipPath id="k4"><rect x="-5" y="-29.52" width="37.36" height="26.23"/><rect x="5.19" y="-3.39" width="4.17" height="6.29"/><rect x="13.18" y="-3.39" width="14.68" height="6.29"/></clipPath>
<text transform="translate(62.0 117.3) rotate(-90) scale(1.000 1)" font-size="24.6" fill="#000" font-family="Liberation Sans, sans-serif" stroke="#000" stroke-width="0.9" x="0.00 13.68" text-rendering="geometricPrecision" clip-path="url(#k4)">10</text>
<text transform="translate(50.7 89.8) rotate(-90) scale(1.026 1)" font-size="20.0" fill="#000" font-family="Liberation Sans, sans-serif" stroke="#000" stroke-width="0.9">7</text>
<text transform="translate(62.0 357.8) rotate(-90) scale(1.010 1)" font-size="24.6" fill="#000" font-family="Liberation Sans, sans-serif" stroke="#000" stroke-width="0.9" x="0.00 13.68" text-rendering="geometricPrecision" clip-path="url(#k4)">10</text>
<text transform="translate(50.5 330.2) rotate(-90) scale(1.036 1)" font-size="19.4" fill="#000" font-family="Liberation Sans, sans-serif" stroke="#000" stroke-width="0.9">6</text>
<text transform="translate(26.6 373.3) rotate(-90) scale(1.004 1)" font-size="23.8" fill="#000" font-family="Liberation Sans, sans-serif" stroke="#000" stroke-width="0.9">J</text>
<text transform="translate(27.2 351.0) rotate(-90) scale(1.076 1)" font-size="23.1" fill="#000" font-family="Liberation Sans, sans-serif" stroke="#000" stroke-width="0.9">ϵ</text>
<text transform="translate(15.1 338.4) rotate(-90) scale(1.069 1)" font-size="19.2" fill="#000" font-family="Liberation Sans, sans-serif" stroke="#000" stroke-width="0.9">3</text>
<text transform="translate(26.1 328.4) rotate(-90) scale(1.071 1)" font-size="25.6" fill="#000" font-family="Liberation Sans, sans-serif" stroke="#000" stroke-width="0.9">,</text>
<text transform="translate(26.9 309.4) rotate(-90) scale(0.879 1)" font-size="24.5" fill="#000" font-family="Liberation Sans, sans-serif" stroke="#000" stroke-width="0.9">GeV</text>
<text transform="translate(15.5 268.8) rotate(-90) scale(1.095 1)" font-size="19.5" fill="#000" font-family="Liberation Sans, sans-serif" stroke="#000" stroke-width="0.9">2</text>
<text transform="translate(27.0 230.0) rotate(-90) scale(1.066 1)" font-size="22.0" fill="#000" font-family="Liberation Sans, sans-serif" stroke="#000" stroke-width="0.9">m</text>
<text transform="translate(15.7 210.7) rotate(-90) scale(1.136 1)" font-size="19.1" fill="#000" font-family="Liberation Sans, sans-serif" stroke="#000" stroke-width="0.9">2</text>
<text transform="translate(26.9 187.3) rotate(-90) scale(0.976 1)" font-size="22.3" fill="#000" font-family="Liberation Sans, sans-serif" stroke="#000" stroke-width="0.9">s</text>
<text transform="translate(26.9 163.8) rotate(-90) scale(1.051 1)" font-size="22.3" fill="#000" font-family="Liberation Sans, sans-serif" stroke="#000" stroke-width="0.9">sr</text>
<text transform="translate(113.4 52.3) scale(0.857 1)" font-size="23.3" fill="#0000ff" font-family="Liberation Sans, sans-serif" stroke-width="1.1" paint-order="stroke" stroke="#0000ff">ATIC</text>
<text transform="translate(177.4 52.4) scale(1.049 1)" font-size="23.7" fill="#0000ff" font-family="Liberation Sans, sans-serif" stroke-width="1.1" paint-order="stroke" stroke="#0000ff">2</text>
<text transform="translate(238.8 52.4) scale(0.875 1)" font-size="23.5" fill="#ff00ff" font-family="Liberation Sans, sans-serif" stroke-width="1.1" paint-order="stroke" stroke="#ff00ff">JACEE</text>
<text transform="translate(362.8 52.4) scale(0.887 1)" font-size="23.5" fill="#ff8000" font-family="Liberation Sans, sans-serif" stroke-width="1.1" paint-order="stroke" stroke="#ff8000">KASCADE</text>
<text transform="translate(496.4 52.4) scale(1.008 1)" font-size="22.9" fill="#00ffff" font-family="Liberation Sans, sans-serif" stroke-width="1.1" paint-order="stroke" stroke="#00ffff">Akeno</text>
<text transform="translate(639.0 52.2) scale(1.008 1)" font-size="22.5" fill="#ff0000" font-family="Liberation Sans, sans-serif" stroke-width="1.1" paint-order="stroke" stroke="#ff0000">HiRes</text>
<text transform="translate(625.8 280.5) scale(0.931 1)" font-size="23.6" fill="#000" font-family="Liberation Sans, sans-serif" stroke="#000" stroke-width="0.1">H</text>
<text transform="translate(674.2 364.7) scale(0.980 1)" font-size="23.4" fill="#000" font-family="Liberation Sans, sans-serif" stroke="#000" stroke-width="0.1">He</text>
<text transform="translate(739.2 388.0) scale(0.986 1)" font-size="23.2" fill="#000" font-family="Liberation Sans, sans-serif" stroke="#000" stroke-width="0.1">Fe</text>
<text transform="translate(709.9 444.0) scale(0.958 1)" font-size="24.5" fill="#000" font-family="Liberation Sans, sans-serif" stroke="#000" stroke-width="0.1">Ne</text>
<text transform="translate(757.5 443.9) scale(0.931 1)" font-size="24.3" fill="#000" font-family="Liberation Sans, sans-serif" stroke="#000" stroke-width="0.1">S</text>
<text transform="translate(701.3 496.7) scale(0.881 1)" font-size="24.3" fill="#000" font-family="Liberation Sans, sans-serif" stroke="#000" stroke-width="0.1">CNO</text>
</g>
<g stroke="#000" stroke-width="2.4" fill="none" stroke-linecap="round">
<path d="M7.6 230.4 C11.5 242.6 27.5 242.6 31.4 230.4"/>
<path d="M7.6 143 C11.6 130.8 27.6 130.8 31.6 143"/>
<path d="M7.6 242.2 L31.4 256.2"/>
<path d="M731.3 372.8 V379 M736.9 372.8 V379 M769.4 372.8 V379 M775 372.8 V379" stroke-width="1.9" stroke-linecap="butt"/>
</g>
<rect x="101.5" y="37.0" width="5.8" height="5.6" fill="#0000ff"/>
<line x1="160.4" y1="45.2" x2="176.2" y2="45.2" stroke="#0000ff" stroke-width="2.7"/>
<path d="M223.3 44.3 L229 38.8 L234.8 44.3 L229 49.8 Z" fill="#ff00ff"/>
<path d="M339.7 47.7 L350.2 47.7 L345 39.3 Z" fill="#ff8000"/>
<rect x="474.35" y="40.3" width="8.6" height="8.6" fill="none" stroke="#00ffff" stroke-width="1"/>
<rect x="618.5" y="41.2" width="6.2" height="6.2" fill="#ff0000"/>
<circle cx="630.2" cy="44.3" r="3.5" fill="#ff0000"/>
<line x1="742" y1="437" x2="756" y2="437" stroke="#000" stroke-width="2.1"/>
</svg>
</body></html>
